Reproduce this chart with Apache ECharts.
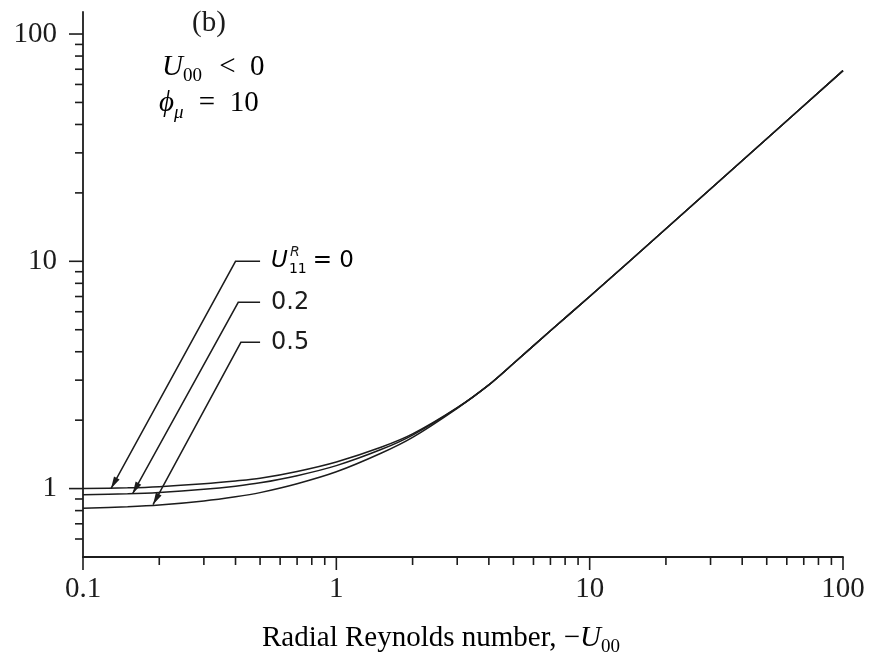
<!DOCTYPE html>
<html>
<head>
<meta charset="utf-8">
<script src="https://cdn.jsdelivr.net/npm/echarts@6/dist/echarts.min.js"></script>
<style>
  html, body { margin: 0; padding: 0; background: #ffffff; }
  #chart { width: 871px; height: 661px; }
</style>
</head>
<body>
<div id="chart"></div>
<script>
// Radial Reynolds number (−U00) at which the curves are sampled
const reynolds = [0.1, 0.15, 0.2, 0.3, 0.4, 0.5, 0.7, 1, 1.5, 2, 3, 4, 5, 7, 10, 20, 50, 100];

// Curves for U11^R = 0, 0.2 and 0.5
const curveR0  = [1.000, 1.008, 1.020, 1.050, 1.080, 1.110, 1.190, 1.310, 1.520, 1.740, 2.270, 2.860, 3.550, 4.950, 7.00, 13.9, 34.6, 69];
const curveR02 = [0.940, 0.949, 0.962, 0.993, 1.025, 1.060, 1.140, 1.262, 1.485, 1.720, 2.265, 2.860, 3.550, 4.950, 7.00, 13.9, 34.6, 69];
const curveR05 = [0.820, 0.832, 0.846, 0.882, 0.920, 0.960, 1.050, 1.185, 1.430, 1.680, 2.255, 2.860, 3.550, 4.950, 7.00, 13.9, 34.6, 69];

// Leader arrows: value of U11^R, where the arrow touches its curve, and the elbow of the leader
const leaderValues = [0, 0.2, 0.5];
const leaderTipX   = [0.129, 0.157, 0.189];
const leaderTipY   = [1.00, 0.95, 0.85];
const leaderElbowX = [0.40, 0.41, 0.42];
const leaderElbowY = [10, 6.6, 4.4];
const leaderEndX   = [0.5, 0.5, 0.5];

// Axis ticks
const xMajorTicks = [0.1, 1, 10, 100];
const xMinorTicks = [0.2, 0.3, 0.4, 0.5, 0.6, 0.7, 0.8, 0.9, 2, 3, 4, 5, 6, 7, 8, 9, 20, 30, 40, 50, 60, 70, 80, 90];
const yMajorTicks = [1, 10, 100];
const yMinorTicks = [0.6, 0.7, 0.8, 0.9, 2, 3, 4, 5, 6, 7, 8, 9, 20, 30, 40, 50, 60, 70, 80, 90];

const X_MIN = 0.1, X_MAX = 100, Y_MIN = 0.5, Y_MAX = 125;

const SERIF = '"Liberation Serif", "Times New Roman", serif';
const SANS = '"DejaVu Sans", sans-serif';
const INK = '#1c1c1c';

const chart = echarts.init(document.getElementById('chart'), null, { renderer: 'canvas' });

function pairs(xs, ys) { return xs.map((x, i) => [x, ys[i]]); }

function curveSeries(name, ys) {
  return {
    name: name,
    type: 'line',
    data: pairs(reynolds, ys),
    smooth: 0.3,
    showSymbol: false,
    symbol: 'none',
    silent: true,
    lineStyle: { color: INK, width: 1.5 },
    z: 3
  };
}

const isDecade = v => Math.abs(Math.log10(v) - Math.round(Math.log10(v))) < 1e-6;

// Tick marks drawn on the axes through the axis scales
const xTickData = xMajorTicks.map(v => [v, Y_MIN, 1]).concat(xMinorTicks.map(v => [v, Y_MIN, 0]));
const yTickData = yMajorTicks.map(v => [X_MIN, v, 1]).concat(yMinorTicks.map(v => [X_MIN, v, 0]));

const leaderData = leaderValues.map((v, i) => [leaderTipX[i], leaderTipY[i], leaderElbowX[i], leaderElbowY[i], leaderEndX[i], v]);

const labelRich = {
  u:  { fontFamily: SANS, fontStyle: 'italic', fontSize: 23, lineHeight: 28, color: INK },
  s:  { fontFamily: SANS, fontSize: 14, lineHeight: 14, padding: [17, 0, 0, 1], color: INK },
  t:  { fontFamily: SANS, fontSize: 23, lineHeight: 28, padding: [0, 0, 0, 6], color: INK }
};

const option = {
  backgroundColor: '#ffffff',
  animation: false,
  grid: { left: 83, right: 28, top: 12, bottom: 104, containLabel: false },
  xAxis: {
    type: 'log',
    logBase: 10,
    min: X_MIN,
    max: X_MAX,
    axisLine: { show: true, onZero: false, lineStyle: { color: INK, width: 1.8 } },
    axisTick: { show: false },
    splitLine: { show: false },
    minorTick: { show: false },
    axisLabel: {
      margin: 18,
      fontFamily: SERIF,
      fontSize: 29,
      color: INK,
      formatter: v => (isDecade(v) ? String(+v.toPrecision(6)) : '')
    }
  },
  yAxis: {
    type: 'log',
    logBase: 10,
    min: Y_MIN,
    max: Y_MAX,
    axisLine: { show: true, onZero: false, lineStyle: { color: INK, width: 1.8 } },
    axisTick: { show: false },
    splitLine: { show: false },
    minorTick: { show: false },
    axisLabel: {
      margin: 26,
      fontFamily: SERIF,
      fontSize: 29,
      color: INK,
      formatter: v => (isDecade(v) && v >= 1 && v <= 100 ? String(+v.toPrecision(6)) : '')
    }
  },
  graphic: [
    {
      type: 'text', left: 192, top: 9,
      style: { text: '(b)', fontFamily: SERIF, fontSize: 29, fill: INK }
    },
    {
      type: 'text', left: 162, top: 49,
      style: {
        text: '{i|U}{sub|00}{n| <  0}',
        rich: {
          i: { fontFamily: SERIF, fontStyle: 'italic', fontSize: 29, lineHeight: 32, color: INK },
          sub: { fontFamily: SERIF, fontSize: 19, lineHeight: 19, padding: [18, 10, 0, 0], color: INK },
          n: { fontFamily: SERIF, fontSize: 29, lineHeight: 32, color: INK }
        }
      }
    },
    {
      type: 'text', left: 159, top: 85,
      style: {
        text: '{i|\u03d5}{sub|\u03bc}{n| =  10}',
        rich: {
          i: { fontFamily: SERIF, fontStyle: 'italic', fontSize: 29, lineHeight: 32, color: INK },
          sub: { fontFamily: SERIF, fontStyle: 'italic', fontSize: 19, lineHeight: 19, padding: [18, 8, 0, 0], color: INK },
          n: { fontFamily: SERIF, fontSize: 29, lineHeight: 32, color: INK }
        }
      }
    },
    {
      type: 'text', left: 262, top: 620,
      style: {
        text: '{n|Radial Reynolds number, \u2212}{i|U}{sub|00}',
        rich: {
          n: { fontFamily: SERIF, fontSize: 29, lineHeight: 32, color: INK },
          i: { fontFamily: SERIF, fontStyle: 'italic', fontSize: 29, lineHeight: 32, color: INK },
          sub: { fontFamily: SERIF, fontSize: 19, lineHeight: 19, padding: [18, 0, 0, 0], color: INK }
        }
      }
    }
  ],
  series: [
    curveSeries('U11R = 0', curveR0),
    curveSeries('U11R = 0.2', curveR02),
    curveSeries('U11R = 0.5', curveR05),
    {
      name: 'x ticks',
      type: 'custom',
      silent: true,
      clip: false,
      data: xTickData,
      encode: { x: 0, y: 1 },
      renderItem: (params, api) => {
        const p = api.coord([api.value(0), api.value(1)]);
        const len = api.value(2) ? 13 : 8;
        return {
          type: 'line',
          shape: { x1: p[0], y1: p[1], x2: p[0], y2: p[1] + len },
          style: { stroke: INK, lineWidth: 1.6 }
        };
      }
    },
    {
      name: 'y ticks',
      type: 'custom',
      silent: true,
      clip: false,
      data: yTickData,
      encode: { x: 0, y: 1 },
      renderItem: (params, api) => {
        const p = api.coord([api.value(0), api.value(1)]);
        const len = api.value(2) ? 14 : 8;
        return {
          type: 'line',
          shape: { x1: p[0], y1: p[1], x2: p[0] - len, y2: p[1] },
          style: { stroke: INK, lineWidth: 1.6 }
        };
      }
    },
    {
      name: 'leaders',
      type: 'custom',
      silent: true,
      clip: false,
      data: leaderData,
      encode: { x: [0, 2, 4], y: [1, 3] },
      z: 4,
      renderItem: (params, api) => {
        const tip = api.coord([api.value(0), api.value(1)]);
        const elbow = api.coord([api.value(2), api.value(3)]);
        const end = api.coord([api.value(4), api.value(3)]);
        const value = api.value(5);
        const dx = tip[0] - elbow[0], dy = tip[1] - elbow[1];
        const L = Math.hypot(dx, dy);
        const ux = dx / L, uy = dy / L;
        const head = 12, half = 3.2;
        const bx = tip[0] - ux * head, by = tip[1] - uy * head;
        const children = [
          {
            type: 'polyline',
            shape: { points: [end, elbow, tip] },
            style: { stroke: INK, lineWidth: 1.5, fill: null }
          },
          {
            type: 'polygon',
            shape: { points: [tip, [bx - uy * half, by + ux * half], [bx + uy * half, by - ux * half]] },
            style: { fill: INK }
          }
        ];
        if (params.dataIndex === 0) {
          children.push({
            type: 'text', x: end[0] + 11, y: end[1],
            style: {
              text: '{u|U}{s|11}{t|= ' + value + '}',
              rich: labelRich, verticalAlign: 'middle', align: 'left'
            }
          });
          children.push({
            type: 'text', x: end[0] + 30, y: end[1] - 9,
            style: { text: 'R', fontFamily: SANS, fontStyle: 'italic', fontSize: 14, fill: INK, verticalAlign: 'middle', align: 'left' }
          });
        } else {
          children.push({
            type: 'text', x: end[0] + 11, y: end[1],
            style: { text: String(value), fontFamily: SANS, fontSize: 24, fill: INK, verticalAlign: 'middle', align: 'left' }
          });
        }
        return { type: 'group', children: children };
      }
    }
  ]
};

chart.setOption(option);
</script>
</body>
</html>
